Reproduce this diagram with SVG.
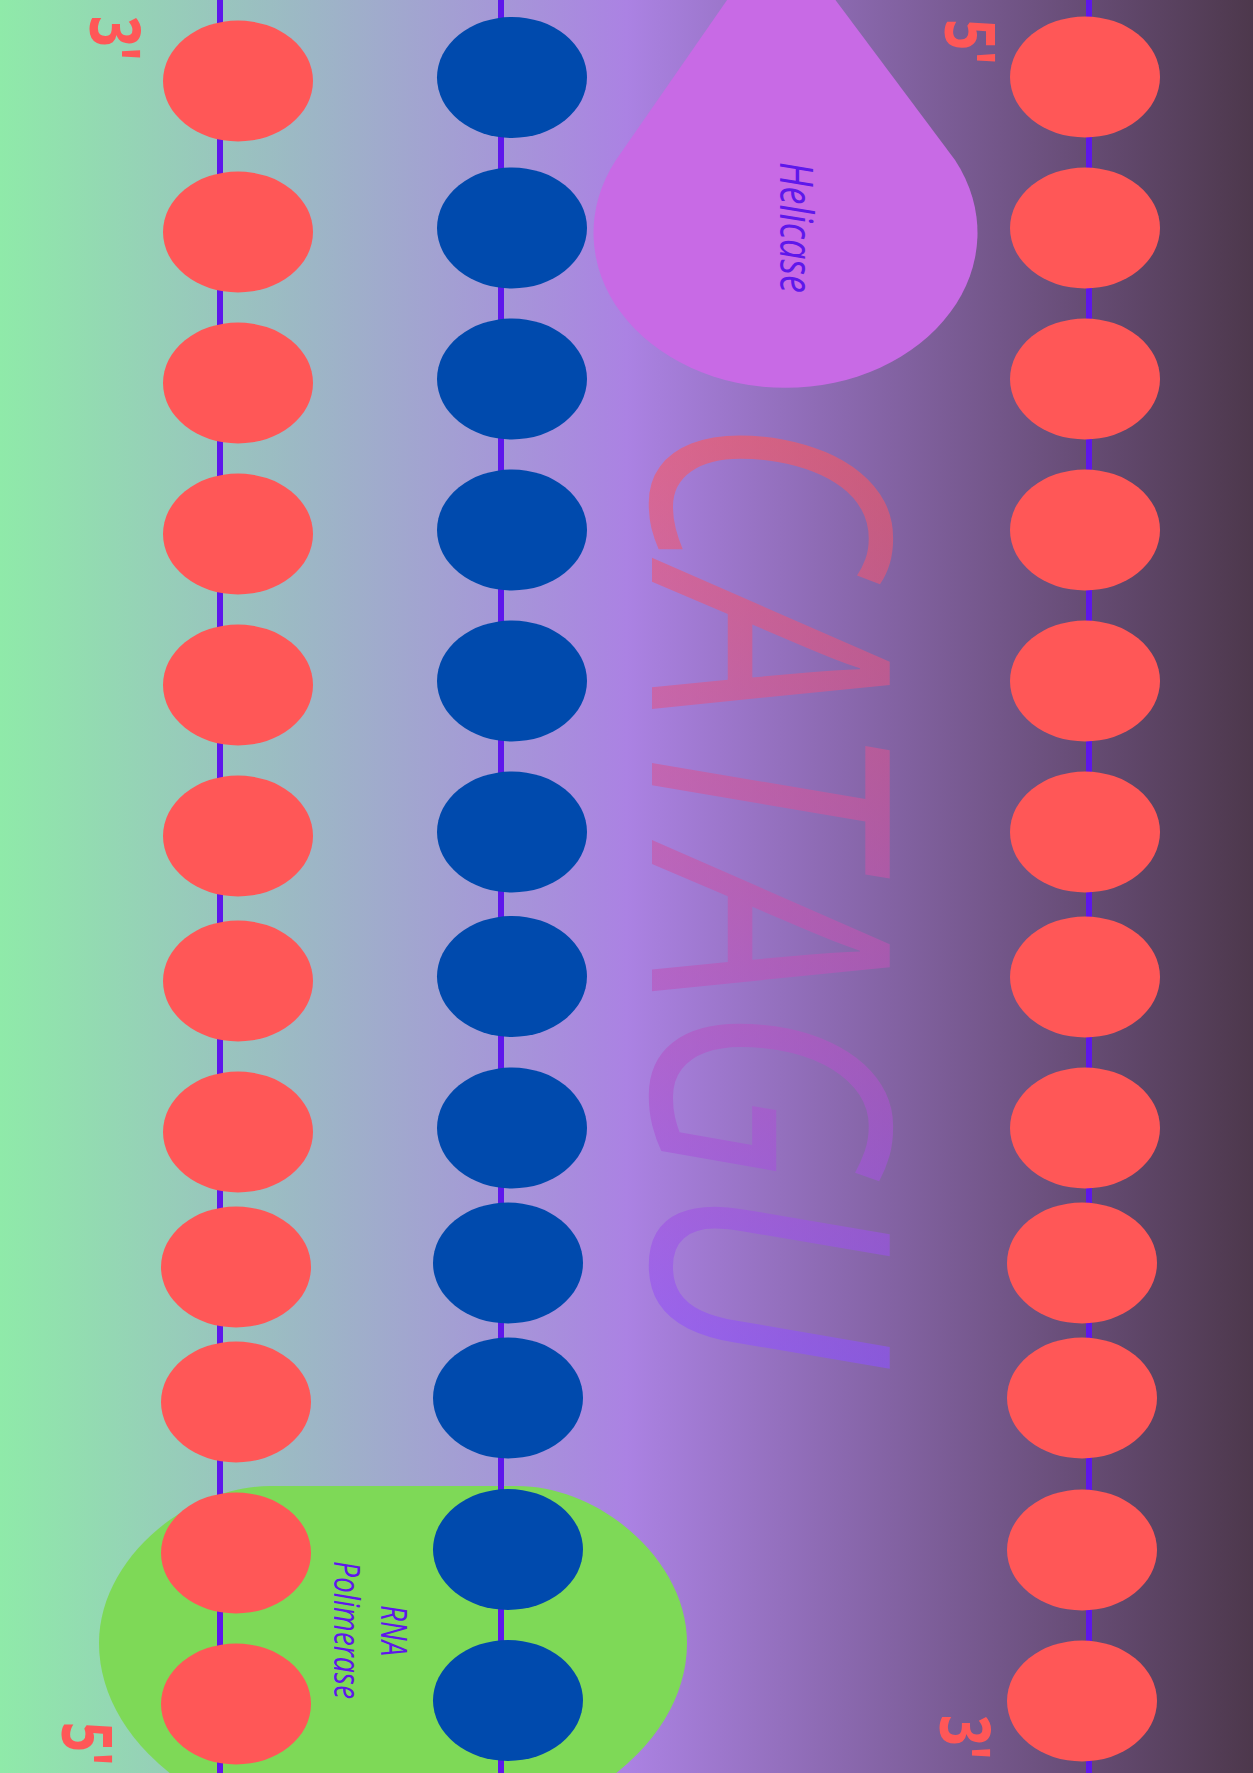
<svg xmlns="http://www.w3.org/2000/svg" width="1253" height="1773" viewBox="0 0 1253 1773">
  <defs>
    <linearGradient id="bg" x1="0" y1="0" x2="1" y2="0">
      <stop offset="0" stop-color="#8feaa9"/>
      <stop offset="0.5" stop-color="#ab82e3"/>
      <stop offset="1" stop-color="#4d384c"/>
    </linearGradient>
    <linearGradient id="txtgrad" x1="0" y1="0" x2="1" y2="0">
      <stop offset="0" stop-color="#ff5757"/>
      <stop offset="1" stop-color="#8c52ff"/>
    </linearGradient>
    <style>
      .line { stroke: #5e17eb; stroke-width: 6; fill: none; }
      .red { fill: #ff5757; }
      .blue { fill: #004aad; }
      .end { font-family: "Open Sans", "DejaVu Sans", sans-serif; font-weight: 700; font-size: 70px; fill: #ff5757; }
      .lbl { font-family: "Open Sans", "DejaVu Sans", sans-serif; font-style: italic; font-weight: 400; fill: #5e17eb; }
      .big { font-family: "Open Sans", "DejaVu Sans", sans-serif; font-style: italic; font-weight: 400; font-size: 333px; fill: url(#txtgrad); fill-opacity: 0.6; }
    </style>
  </defs>

  <rect x="0" y="0" width="1253" height="1773" fill="url(#bg)"/>

  <g id="sequence-label">
    <text class="big" transform="translate(652,0) rotate(90)" x="416" y="0" textLength="950" lengthAdjust="spacingAndGlyphs">CATAGU</text>
  </g>

  <g id="helicase">
    <path d="M734,-10 L616,160 A192 155 0 1 0 955,160 L828,-10 Z" fill="#c86ae5"/>
    <text class="lbl" font-size="45" transform="translate(780,0) rotate(90)" x="162" y="0" textLength="131" lengthAdjust="spacingAndGlyphs">Helicase</text>
  </g>

  <g id="rna-polimerase">
    <path d="M270,1486 L517,1486 C600,1486 687,1560 687,1643 A294 200 0 0 1 99,1643 C99,1560 186,1486 270,1486 Z" fill="#7ed957"/>
  </g>

  <g id="connectors">
    <line class="line" x1="220" y1="0" x2="220" y2="1773"/>
    <line class="line" x1="501" y1="0" x2="501" y2="1773"/>
    <line class="line" x1="1089" y1="0" x2="1089" y2="1773"/>
  </g>

  <g id="strand-left">
    <ellipse class="red" cx="238" cy="81" rx="75" ry="60.5"/>
    <ellipse class="red" cx="238" cy="232" rx="75" ry="60.5"/>
    <ellipse class="red" cx="238" cy="383" rx="75" ry="60.5"/>
    <ellipse class="red" cx="238" cy="534" rx="75" ry="60.5"/>
    <ellipse class="red" cx="238" cy="685" rx="75" ry="60.5"/>
    <ellipse class="red" cx="238" cy="836" rx="75" ry="60.5"/>
    <ellipse class="red" cx="238" cy="981" rx="75" ry="60.5"/>
    <ellipse class="red" cx="238" cy="1132" rx="75" ry="60.5"/>
    <ellipse class="red" cx="236" cy="1267" rx="75" ry="60.5"/>
    <ellipse class="red" cx="236" cy="1402" rx="75" ry="60.5"/>
    <ellipse class="red" cx="236" cy="1553" rx="75" ry="60.5"/>
    <ellipse class="red" cx="236" cy="1704" rx="75" ry="60.5"/>
  </g>

  <g id="strand-middle">
    <ellipse class="blue" cx="512" cy="77.5" rx="75" ry="60.5"/>
    <ellipse class="blue" cx="512" cy="228" rx="75" ry="60.5"/>
    <ellipse class="blue" cx="512" cy="379" rx="75" ry="60.5"/>
    <ellipse class="blue" cx="512" cy="530" rx="75" ry="60.5"/>
    <ellipse class="blue" cx="512" cy="681" rx="75" ry="60.5"/>
    <ellipse class="blue" cx="512" cy="832" rx="75" ry="60.5"/>
    <ellipse class="blue" cx="512" cy="976.5" rx="75" ry="60.5"/>
    <ellipse class="blue" cx="512" cy="1128" rx="75" ry="60.5"/>
    <ellipse class="blue" cx="508" cy="1263" rx="75" ry="60.5"/>
    <ellipse class="blue" cx="508" cy="1398" rx="75" ry="60.5"/>
    <ellipse class="blue" cx="508" cy="1549.5" rx="75" ry="60.5"/>
    <ellipse class="blue" cx="508" cy="1700.5" rx="75" ry="60.5"/>
  </g>

  <g id="strand-right">
    <ellipse class="red" cx="1085" cy="77" rx="75" ry="60.5"/>
    <ellipse class="red" cx="1085" cy="228" rx="75" ry="60.5"/>
    <ellipse class="red" cx="1085" cy="379" rx="75" ry="60.5"/>
    <ellipse class="red" cx="1085" cy="530" rx="75" ry="60.5"/>
    <ellipse class="red" cx="1085" cy="681" rx="75" ry="60.5"/>
    <ellipse class="red" cx="1085" cy="832" rx="75" ry="60.5"/>
    <ellipse class="red" cx="1085" cy="977" rx="75" ry="60.5"/>
    <ellipse class="red" cx="1085" cy="1128" rx="75" ry="60.5"/>
    <ellipse class="red" cx="1082" cy="1263" rx="75" ry="60.5"/>
    <ellipse class="red" cx="1082" cy="1398" rx="75" ry="60.5"/>
    <ellipse class="red" cx="1082" cy="1550" rx="75" ry="60.5"/>
    <ellipse class="red" cx="1082" cy="1701" rx="75" ry="60.5"/>
  </g>

  <g id="rna-polimerase-label">
    <text class="lbl" font-size="37" transform="translate(381,0) rotate(90)" x="1605" y="0" textLength="51" lengthAdjust="spacingAndGlyphs">RNA</text>
    <text class="lbl" font-size="37" transform="translate(334,0) rotate(90)" x="1561" y="0" textLength="138" lengthAdjust="spacingAndGlyphs">Polimerase</text>
  </g>

  <g id="end-labels">
    <text class="end" transform="translate(90,0) rotate(90)" x="16" y="0" textLength="45" lengthAdjust="spacingAndGlyphs">3'</text>
    <text class="end" transform="translate(945,0) rotate(90)" x="19" y="0" textLength="46" lengthAdjust="spacingAndGlyphs">5'</text>
    <text class="end" transform="translate(940,0) rotate(90)" x="1715" y="0" textLength="45" lengthAdjust="spacingAndGlyphs">3'</text>
    <text class="end" transform="translate(62,0) rotate(90)" x="1722" y="0" textLength="44" lengthAdjust="spacingAndGlyphs">5'</text>
  </g>
</svg>
